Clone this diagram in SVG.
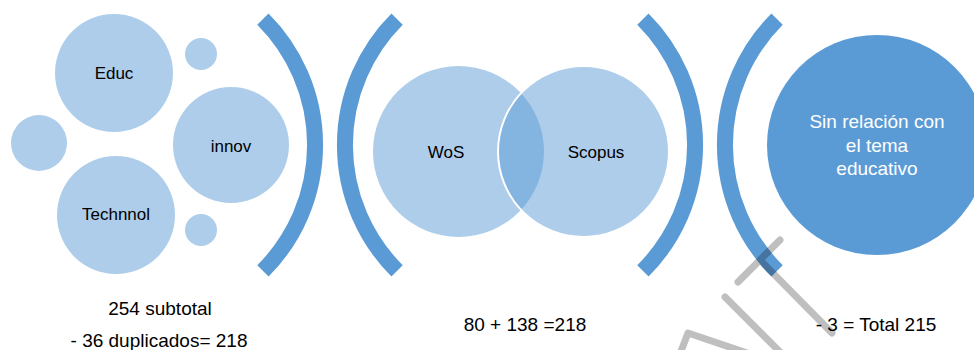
<svg xmlns="http://www.w3.org/2000/svg" width="974" height="350" viewBox="0 0 974 350">
  <style>
    .lc { fill: #5B9BD5; fill-opacity: 0.5; }
    .arc { fill: none; stroke: #5B9BD5; stroke-width: 16; stroke-linecap: butt; }
    .lbl { font-family: "Liberation Sans", Arial, sans-serif; font-size: 17px; fill: #000; text-anchor: middle; }
    .wlbl { font-family: "Liberation Sans", Arial, sans-serif; font-size: 19px; fill: #fff; text-anchor: middle; }
    .cap { font-family: "Liberation Sans", Arial, sans-serif; font-size: 19px; fill: #000; text-anchor: middle; }
    .wm { fill: none; stroke: #000; stroke-width: 7; stroke-linecap: round; stroke-linejoin: round; }
  </style>
  <rect width="974" height="350" fill="#fff"/>

  <g id="educ"><circle class="lc" cx="114" cy="73" r="59"/><text class="lbl" x="114" y="79">Educ</text></g>
  <g id="bubble-top"><circle class="lc" cx="201" cy="54" r="16"/></g>
  <g id="bubble-left"><circle class="lc" cx="39" cy="143" r="28"/></g>
  <g id="innov"><circle class="lc" cx="231" cy="145" r="58"/><text class="lbl" x="231" y="152">innov</text></g>
  <g id="technnol"><circle class="lc" cx="116" cy="215" r="59"/><text class="lbl" x="116" y="220">Technnol</text></g>
  <g id="bubble-bottom"><circle class="lc" cx="201" cy="230" r="16"/></g>

  <g id="connectors">
    <path class="arc" d="M262.9,19.1 A178,178 0 0 1 262.9,270.9"/>
    <path class="arc" d="M397.1,19.1 A178,178 0 0 0 397.1,270.9"/>
    <path class="arc" d="M642.9,19.1 A178,178 0 0 1 642.9,270.9"/>
    <path class="arc" d="M777.1,19.1 A178,178 0 0 0 777.1,270.9"/>
  </g>

  <g id="wos"><circle class="lc" cx="458.5" cy="151.5" r="85.5"/></g>
  <g id="scopus"><circle class="lc" cx="583.5" cy="151.5" r="85.5" stroke="#fff" stroke-width="2"/></g>
  <text class="lbl" x="446" y="158">WoS</text>
  <text class="lbl" x="596" y="158">Scopus</text>

  <g id="sin-relacion">
    <circle cx="877" cy="145" r="110" fill="#5B9BD5"/>
    <text class="wlbl" x="877" y="128">Sin relación con</text>
    <text class="wlbl" x="877" y="151.5">el tema</text>
    <text class="wlbl" x="877" y="175">educativo</text>
  </g>

  <g id="captions">
    <text class="cap" x="160" y="315">254 subtotal</text>
    <text class="cap" x="159" y="347">- 36 duplicados= 218</text>
    <text class="cap" x="525" y="331">80 + 138 =218</text>
    <text class="cap" x="876" y="331">- 3 = Total 215</text>
  </g>

  <g id="watermark" opacity="0.25">
    <path class="wm" d="M780,240 L738,282 M760,260 L832,333 M725,297 L782,354 M680,354 L688,333 L750,354"/>
  </g>
</svg>
